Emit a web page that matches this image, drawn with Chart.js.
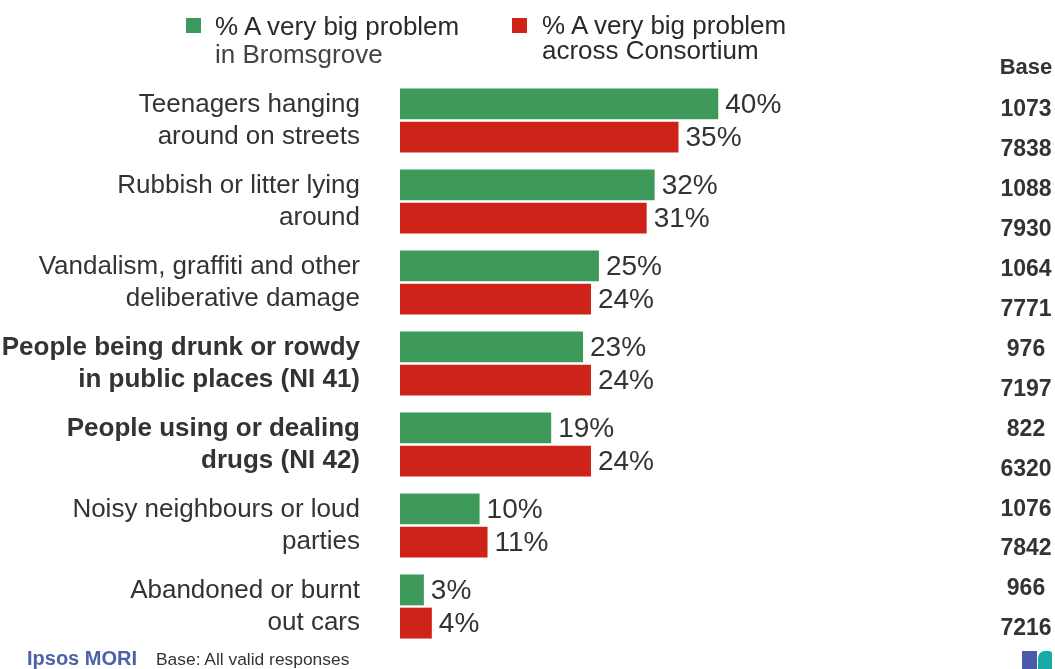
<!DOCTYPE html>
<html>
<head>
<meta charset="utf-8">
<script src="https://cdn.jsdelivr.net/npm/chart.js@4"></script>
<style>
  html, body { margin: 0; padding: 0; background: #fff; }
  body { width: 1055px; height: 669px; position: relative; overflow: hidden; font-family: 'Liberation Sans', Arial, sans-serif; color: #333; }
  #wrap { position: absolute; left: 0; top: 0; width: 1055px; height: 669px; }
  .key { position: absolute; font-size: 26px; color: #2a2a2a; }
  .swatch { position: absolute; width: 15px; height: 15px; }
  .foot-brand { position: absolute; left: 27px; top: 647px; font-size: 20px; font-weight: bold; color: #4b62a8; }
  .foot-note { position: absolute; left: 156px; top: 649px; font-size: 17.4px; color: #333; }
  .logo-a { position: absolute; left: 1022px; top: 651px; width: 15px; height: 18px; background: #4a5aaa; }
  .logo-b { position: absolute; left: 1038px; top: 651px; width: 14px; height: 18px; background: #17a9a6; border-radius: 7px 3px 0 0; }
</style>
</head>
<body>
<div id="wrap"><canvas id="chart" width="1055" height="669"></canvas></div>

<div class="swatch" style="left:186px; top:18px; background:#3d9a5a;"></div>
<div class="key" style="left:215px; top:12px; line-height:28px;">% A very big problem<br><span style="color:#444">in Bromsgrove</span></div>
<div class="swatch" style="left:512px; top:18px; background:#cd2319;"></div>
<div class="key" style="left:542px; top:13px; line-height:25px;">% A very big problem<br>across Consortium</div>

<div class="foot-brand">Ipsos MORI</div>
<div class="foot-note">Base: All valid responses</div>
<div class="logo-a"></div>
<div class="logo-b"></div>

<script>
const categories = [
    ['Teenagers hanging', 'around on streets'],
    ['Rubbish or litter lying', 'around'],
    ['Vandalism, graffiti and other', 'deliberative damage'],
    ['People being drunk or rowdy', 'in public places (NI 41)'],
    ['People using or dealing', 'drugs (NI 42)'],
    ['Noisy neighbours or loud', 'parties'],
    ['Abandoned or burnt', 'out cars']
];
const boldRows = [3, 4];
const bromsgrove = [40, 32, 25, 23, 19, 10, 3];
const consortium = [35, 31, 24, 24, 24, 11, 4];
const baseBromsgrove = [1073, 1088, 1064, 976, 822, 1076, 966];
const baseConsortium = [7838, 7930, 7771, 7197, 6320, 7842, 7216];

const FONT = "'Liberation Sans', Arial, sans-serif";

// percentage after each bar, plus the base column on the right
const labelPlugin = {
    id: 'labels',
    afterDatasetsDraw(chart) {
        const ctx = chart.ctx;
        ctx.save();
        ctx.fillStyle = '#333';
        ctx.font = '28px ' + FONT;
        ctx.textAlign = 'left';
        ctx.textBaseline = 'middle';
        chart.data.datasets.forEach((ds, di) => {
            chart.getDatasetMeta(di).data.forEach((bar, i) => {
                ctx.fillText(ds.data[i] + '%', bar.x + 7, bar.y + 1);
            });
        });

        const area = chart.chartArea;
        const cx = 1026;
        ctx.textAlign = 'center';
        ctx.font = 'bold 22px ' + FONT;
        ctx.fillText('Base', cx, area.top - 12);
        ctx.font = 'bold 23px ' + FONT;
        const first = area.top + 30;
        const step = (area.bottom - 18 - first) / 13;
        let k = 0;
        for (let i = 0; i < categories.length; i++) {
            ctx.fillText(String(baseBromsgrove[i]), cx, first + step * k++);
            ctx.fillText(String(baseConsortium[i]), cx, first + step * k++);
        }
        ctx.restore();
    }
};

new Chart(document.getElementById('chart'), {
    type: 'bar',
    data: {
        labels: categories,
        datasets: [
            {
                label: '% A very big problem in Bromsgrove',
                data: bromsgrove,
                backgroundColor: '#3d9a5a',
                categoryPercentage: 0.82,
                barPercentage: 0.93
            },
            {
                label: '% A very big problem across Consortium',
                data: consortium,
                backgroundColor: '#cd2319',
                categoryPercentage: 0.82,
                barPercentage: 0.93
            }
        ]
    },
    options: {
        indexAxis: 'y',
        responsive: false,
        animation: false,
        layout: { padding: { left: 0, top: 80, right: 98, bottom: 22 } },
        plugins: {
            legend: { display: false },
            tooltip: { enabled: false }
        },
        scales: {
            x: {
                display: false,
                min: 0,
                max: 70
            },
            y: {
                afterFit: scale => {
                    scale.width = 400;
                    scale.paddingTop = 0;
                    scale.paddingBottom = 0;
                },
                grid: { display: false, drawTicks: false },
                border: { display: false },
                ticks: {
                    padding: 40,
                    color: '#333',
                    font: ctx => ({
                        family: FONT,
                        size: 26,
                        lineHeight: 1.23,
                        weight: boldRows.includes(ctx.index) ? 'bold' : 'normal'
                    })
                }
            }
        }
    },
    plugins: [labelPlugin]
});
</script>
</body>
</html>
